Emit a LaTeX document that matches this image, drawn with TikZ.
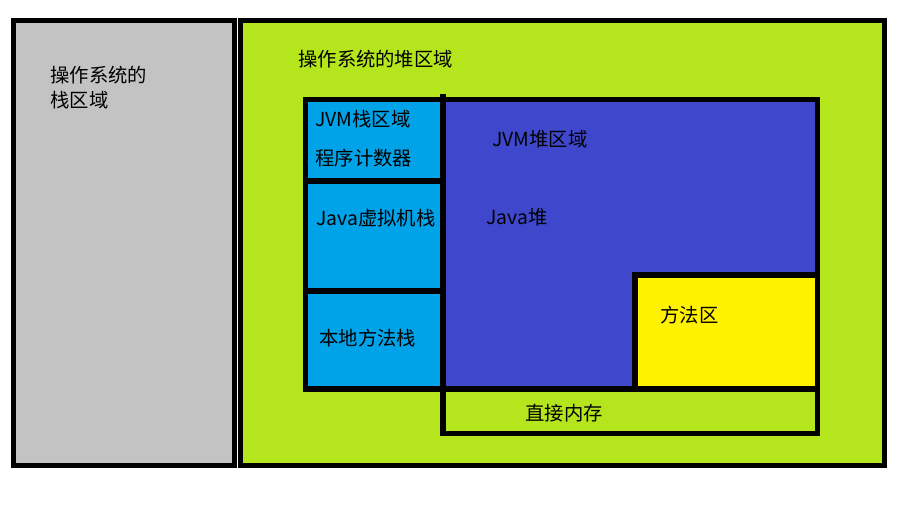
\documentclass[tikz,border=0pt]{standalone}
\usepackage{fontspec}
\newfontfamily\cjk{Noto Sans CJK SC}
\definecolor{osgray}{RGB}{195,195,195}
\definecolor{heapgreen}{RGB}{181,230,29}
\definecolor{stackblue}{RGB}{0,162,232}
\definecolor{jvmblue}{RGB}{63,72,204}
\definecolor{areayellow}{RGB}{255,242,0}
\tikzset{
    region/.style={draw=black, line width=2.9pt},
    lbl/.style={anchor=west, inner sep=0pt, font=\cjk\fontsize{11}{13}\selectfont}
}
\begin{document}
\begin{tikzpicture}[x=0.02cm, y=-0.02cm]
    \useasboundingbox[fill=white] (0,0) rectangle (910,505);

    % LEFT: OS stack
    \filldraw[region, fill=osgray] (13.5,20.5) rectangle (234.5,465.5);
    \node[lbl] (osstack1) at (50,75) {操作系统的};
    \node[lbl] (osstack2) at (50,100) {栈区域};

    % RIGHT: OS heap
    \filldraw[region, fill=heapgreen] (240.5,20.5) rectangle (884.5,465.5);
    \node[lbl] (osheap) at (298,59) {操作系统的堆区域};

    % JVM stack column
    \filldraw[region, fill=stackblue] (305.5,99.5) rectangle (443,181);
    \filldraw[region, fill=stackblue] (305.5,181) rectangle (443,291);
    \filldraw[region, fill=stackblue] (305.5,291) rectangle (443,389);
    \node[lbl] (jvmstack) at (315,119) {JVM栈区域};
    \node[lbl] (pc) at (315,158) {程序计数器};
    \node[lbl] (vmstack) at (316,218) {Java虚拟机栈};
    \node[lbl] (native) at (319,338) {本地方法栈};

    % JVM heap
    \filldraw[region, fill=jvmblue] (443,99.5) rectangle (817.5,389);
    \draw[region] (443,94) -- (443,99.5);
    \node[lbl] (jvmheap) at (492,139) {JVM堆区域};
    \node[lbl] (javaheap) at (486,217) {Java堆};

    % Method area
    \filldraw[region, fill=areayellow] (635,275) rectangle (817.5,389);
    \node[lbl] (method) at (660,315) {方法区};

    % Direct memory
    \draw[region] (443,389) rectangle (817.5,433.5);
    \node[lbl] (direct) at (525,413) {直接内存};
\end{tikzpicture}
\end{document}
